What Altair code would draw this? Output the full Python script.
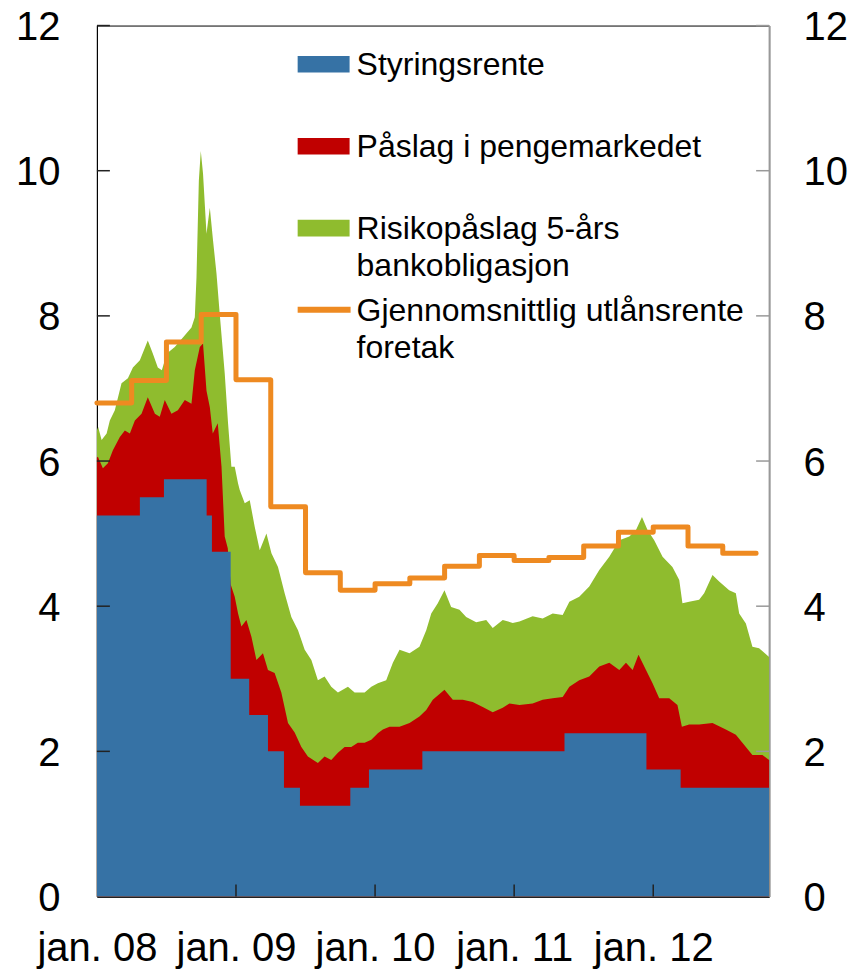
import altair as alt
import pandas as pd

FONT = "Liberation Sans"

# ---- data ----
# Styringsrente (policy rate): change dates as decimal years
policy_t = [2008.000, 2008.309, 2008.482, 2008.789, 2008.827, 2008.962, 2009.095,
            2009.230, 2009.345, 2009.460, 2009.822, 2009.956, 2010.340, 2011.362,
            2011.951, 2012.197, 2012.833]
policy_v = [5.25, 5.50, 5.75, 5.25, 4.75, 3.00, 2.50, 2.00, 1.50, 1.25, 1.50, 1.75,
            2.00, 2.25, 1.75, 1.50, 1.50]

# Top of red area: policy rate + money-market premium (3m money market rate)
nibor_t = [2008.000, 2008.007, 2008.043, 2008.079, 2008.115, 2008.165, 2008.201, 2008.237,
           2008.273, 2008.321, 2008.366, 2008.417, 2008.452, 2008.488, 2008.536, 2008.582,
           2008.632, 2008.680, 2008.704, 2008.740, 2008.763, 2008.788, 2008.812, 2008.833,
           2008.869, 2008.896, 2008.919, 2008.941, 2008.962, 2008.991, 2009.015, 2009.039,
           2009.075, 2009.111, 2009.147, 2009.194, 2009.230, 2009.278, 2009.326, 2009.374,
           2009.422, 2009.470, 2009.517, 2009.589, 2009.637, 2009.685, 2009.733, 2009.781,
           2009.829, 2009.876, 2009.925, 2009.973, 2010.020, 2010.056, 2010.104, 2010.176,
           2010.248, 2010.319, 2010.368, 2010.415, 2010.499, 2010.559, 2010.631, 2010.702,
           2010.774, 2010.846, 2010.918, 2010.966, 2011.038, 2011.133, 2011.205, 2011.277,
           2011.349, 2011.397, 2011.468, 2011.540, 2011.612, 2011.684, 2011.756, 2011.804,
           2011.852, 2011.894, 2011.948, 2011.995, 2012.043, 2012.115, 2012.174, 2012.206,
           2012.258, 2012.330, 2012.426, 2012.522, 2012.594, 2012.641, 2012.713, 2012.785,
           2012.833]
nibor_v = [6.05, 6.06, 5.90, 5.97, 6.15, 6.33, 6.42, 6.38,
           6.56, 6.65, 6.88, 6.65, 6.61, 6.84, 6.65, 6.70,
           6.84, 6.79, 7.25, 7.57, 7.62, 6.97, 6.74, 6.38,
           6.52, 5.92, 4.96, 4.80, 4.30, 4.13, 3.90, 3.72,
           3.81, 3.58, 3.26, 3.35, 3.12, 3.08, 2.81, 2.39,
           2.26, 2.06, 1.93, 1.84, 1.93, 1.88, 1.98, 2.06,
           2.06, 2.12, 2.12, 2.16, 2.25, 2.30, 2.34, 2.34,
           2.39, 2.48, 2.57, 2.71, 2.85, 2.71, 2.71, 2.68,
           2.61, 2.54, 2.60, 2.66, 2.64, 2.66, 2.71, 2.73,
           2.75, 2.89, 2.98, 3.03, 3.17, 3.22, 3.12, 3.22,
           3.12, 3.33, 3.12, 2.94, 2.73, 2.73, 2.64, 2.34,
           2.37, 2.37, 2.39, 2.30, 2.23, 2.12, 1.95, 1.95,
           1.88]

# Top of green area: + risk premium 5-year bank bonds
bond_t = [2008.000, 2008.009, 2008.034, 2008.070, 2008.093, 2008.129, 2008.177, 2008.223,
          2008.259, 2008.309, 2008.366, 2008.402, 2008.438, 2008.467, 2008.503, 2008.560,
          2008.617, 2008.680, 2008.704, 2008.716, 2008.733, 2008.747, 2008.763, 2008.788,
          2008.812, 2008.835, 2008.860, 2008.883, 2008.919, 2008.943, 2008.967, 2008.991,
          2009.015, 2009.027, 2009.063, 2009.099, 2009.135, 2009.171, 2009.219, 2009.255,
          2009.302, 2009.350, 2009.398, 2009.446, 2009.494, 2009.542, 2009.589, 2009.637,
          2009.685, 2009.733, 2009.805, 2009.853, 2009.925, 2009.973, 2010.020, 2010.080,
          2010.128, 2010.176, 2010.248, 2010.319, 2010.368, 2010.404, 2010.451, 2010.499,
          2010.547, 2010.607, 2010.655, 2010.727, 2010.799, 2010.846, 2010.918, 2010.990,
          2011.038, 2011.133, 2011.205, 2011.277, 2011.349, 2011.397, 2011.468, 2011.540,
          2011.612, 2011.684, 2011.756, 2011.828, 2011.876, 2011.919, 2011.959, 2012.007,
          2012.067, 2012.138, 2012.187, 2012.210, 2012.258, 2012.330, 2012.366, 2012.426,
          2012.474, 2012.546, 2012.594, 2012.618, 2012.666, 2012.713, 2012.761, 2012.833]
bond_v = [6.42, 6.47, 6.29, 6.38, 6.56, 6.70, 7.07, 7.14,
          7.29, 7.39, 7.66, 7.48, 7.29, 7.25, 7.48, 7.57,
          7.70, 7.84, 7.98, 8.53, 9.86, 10.27, 9.96, 9.13,
          9.49, 9.04, 8.58, 8.03, 7.21, 6.52, 5.92, 5.92,
          5.69, 5.60, 5.42, 5.46, 5.09, 4.77, 5.00, 4.73,
          4.54, 4.18, 3.85, 3.67, 3.40, 3.26, 2.98, 3.03,
          2.89, 2.81, 2.89, 2.81, 2.81, 2.89, 2.94, 2.98,
          3.22, 3.40, 3.35, 3.44, 3.67, 3.90, 4.04, 4.22,
          3.99, 3.95, 3.85, 3.78, 3.81, 3.70, 3.81, 3.77,
          3.79, 3.86, 3.83, 3.90, 3.88, 4.06, 4.13, 4.27,
          4.50, 4.68, 4.91, 4.96, 5.05, 5.23, 5.05, 4.91,
          4.68, 4.54, 4.36, 4.04, 4.06, 4.09, 4.18, 4.43,
          4.34, 4.22, 4.18, 3.90, 3.76, 3.44, 3.42, 3.30]

# Gjennomsnittlig utlånsrente foretak (quarterly)
lend_t = [2008.00, 2008.25, 2008.50, 2008.75, 2009.00, 2009.25, 2009.50, 2009.75,
          2010.00, 2010.25, 2010.50, 2010.75, 2011.00, 2011.25, 2011.50, 2011.75,
          2012.00, 2012.25, 2012.50, 2012.74]
lend_v = [6.80, 7.11, 7.64, 8.02, 7.12, 5.37, 4.46, 4.22,
          4.31, 4.39, 4.55, 4.70, 4.63, 4.67, 4.83, 5.02,
          5.09, 4.83, 4.73, 4.73]

names = ["Styringsrente", "Påslag i pengemarkedet",
         "Risikopåslag 5-års bankobligasjon", "Gjennomsnittlig utlånsrente foretak"]
colors = ["#3672a5", "#c00000", "#8fbc2e", "#ee8a21"]
y_ticks = [0, 2, 4, 6, 8, 10, 12]
x_ticks = [2008, 2009, 2010, 2011, 2012]

df_policy = pd.DataFrame({"t": policy_t, "v": policy_v, "serie": names[0]})
df_nibor = pd.DataFrame({"t": nibor_t, "v": nibor_v, "serie": names[1]})
df_bond = pd.DataFrame({"t": bond_t, "v": bond_v, "serie": names[2]})
df_lend = pd.DataFrame({"t": lend_t, "v": lend_v, "serie": names[3]})
df_yt = pd.DataFrame({"v": y_ticks[1:]})
df_xt = pd.DataFrame({"t": x_ticks[1:]})

W, H = 673, 872
xs = alt.Scale(domain=[2008, 2012.833], nice=False, zero=False)
ys = alt.Scale(domain=[0, 12], nice=False, zero=True)

X = alt.X("t:Q", scale=xs, title=None,
          axis=alt.Axis(values=x_ticks, labelExpr="'jan. ' + slice(toString(datum.value), 2)",
                        ticks=False, grid=False, labelFontSize=40, labelPadding=32,
                        labelFlush=False, labelOverlap=False, labelColor="black",
                        domainColor="#222222", domainWidth=2, labelFont=FONT))
Y = alt.Y("v:Q", scale=ys, title=None,
          axis=alt.Axis(values=y_ticks, ticks=False, grid=False, labelFontSize=40,
                        labelPadding=37, labelOffset=2, labelColor="black",
                        domainColor="black", domainWidth=1, labelFont=FONT))

legend_fill = alt.Legend(
    title=None, orient="none", legendX=201, legendY=-1, direction="vertical",
    symbolType="M-1,0.21H1V0.85H-1Z", symbolSize=2704, symbolStrokeWidth=0,
    symbolOpacity=1, labelFontSize=32, labelFont=FONT, labelColor="black",
    labelBaseline="top", labelOffset=7, labelLimit=700, rowPadding=25, padding=0,
    labelExpr="datum.label == 'Risikopåslag 5-års bankobligasjon' ? ['Risikopåslag 5-års', 'bankobligasjon'] : datum.label")
legend_stroke = alt.Legend(
    title=None, orient="none", legendX=198, legendY=241, direction="vertical",
    symbolType="M-1,0.53H1", symbolSize=2809, symbolStrokeWidth=6,
    labelFontSize=32, labelFont=FONT, labelColor="black",
    labelBaseline="top", labelOffset=3, labelLimit=700, padding=0,
    labelExpr="['Gjennomsnittlig utlånsrente', 'foretak']")

F = alt.Fill("serie:N", scale=alt.Scale(domain=names[:3], range=colors[:3]), legend=legend_fill)
S = alt.Stroke("serie:N", scale=alt.Scale(domain=names[3:], range=colors[3:]), legend=legend_stroke)

green = alt.Chart(df_bond).mark_area(interpolate="linear").encode(x=X, y=Y, fill=F)
red = alt.Chart(df_nibor).mark_area(interpolate="linear").encode(x=X, y=Y, fill=F)
blue = alt.Chart(df_policy).mark_area(interpolate="step-after").encode(x=X, y=Y, fill=F)
orange = alt.Chart(df_lend).mark_line(
    interpolate="step-after", strokeWidth=5, strokeJoin="round", strokeCap="round"
).encode(x=X, y=Y, stroke=S)
left_ticks = alt.Chart(df_yt).mark_rule(color="#222222", strokeWidth=1.5).encode(
    y=Y, x=alt.value(0), x2=alt.value(13))
bottom_ticks = alt.Chart(df_xt).mark_rule(color="#222222", strokeWidth=1.5).encode(
    x=X, y=alt.value(H - 12), y2=alt.value(H))

inner = alt.layer(green, red, blue, orange, left_ticks, bottom_ticks)

right_ticks = alt.Chart(df_yt).mark_rule(color="#999999", strokeWidth=1.5).encode(
    y=alt.Y("v:Q", scale=ys, title=None,
            axis=alt.Axis(orient="right", values=y_ticks, ticks=False, grid=False,
                          labelFontSize=40, labelPadding=34, labelOffset=2,
                          labelColor="black", domainColor="#999999", domainWidth=2,
                          labelFont=FONT)),
    x=alt.value(W - 13), x2=alt.value(W))

chart = alt.layer(inner, right_ticks).resolve_scale(y="independent").properties(
    width=W, height=H,
    autosize=alt.AutoSizeParams(type="none"),
    padding={"left": 89, "top": 17, "right": 80, "bottom": 73},
).configure(font=FONT, style={"guide-label": {"lineHeight": 37}}).configure_view(
    stroke="black", strokeWidth=1)

chart.save("out.html", embed_options={"renderer": "svg", "actions": False})
